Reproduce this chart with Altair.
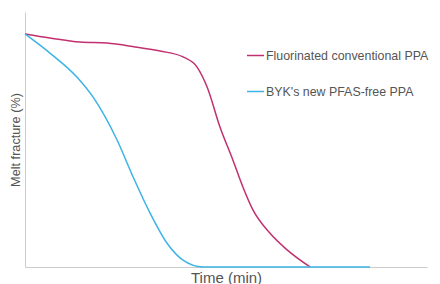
import altair as alt
import pandas as pd

series_names = ["Fluorinated conventional PPA", "BYK's new PFAS-free PPA"]
colors = ["#c2306f", "#3cb4e5"]

fluor_time = [0, 6.2, 13.7, 20.4, 27.4, 33.6, 39.3, 42.8, 45.3, 48.5, 51.7, 54.2, 56.7, 60.9, 65.2, 70.9]
fluor_melt = [91.4, 89.8, 88.2, 87.8, 86.3, 84.7, 82.4, 78.4, 70.6, 54.9, 42.0, 31.4, 22.4, 13.3, 6.7, 0]

byk_time = [0, 6.2, 12.9, 16.9, 22.9, 26.9, 31.1, 35.3, 39.3, 44.3, 85.8]
byk_melt = [91.4, 83.9, 74.5, 66.7, 49.8, 35.3, 21.2, 9.4, 2.7, 0, 0]

rows = []
for t, m in zip(fluor_time, fluor_melt):
    rows.append({"time": t, "melt": m, "series": series_names[0]})
for t, m in zip(byk_time, byk_melt):
    rows.append({"time": t, "melt": m, "series": series_names[1]})
df = pd.DataFrame(rows)

chart = alt.Chart(df).mark_line(interpolate="monotone", strokeWidth=1.5).encode(
    x=alt.X("time:Q", title="Time (min)", scale=alt.Scale(domain=[0, 100], nice=False),
            axis=alt.Axis(labels=False, ticks=False, grid=False, domainColor="#cccccc",
                          titleFontSize=15, titleFontWeight="normal", titleColor="#555555",
                          titlePadding=3)),
    y=alt.Y("melt:Q", title="Melt fracture (%)", scale=alt.Scale(domain=[0, 100], nice=False),
            axis=alt.Axis(labels=False, ticks=False, grid=False, domainColor="#cccccc",
                          titleFontSize=12.7, titleFontWeight="normal", titleColor="#555555",
                          titlePadding=3)),
    color=alt.Color("series:N", sort=series_names,
                    scale=alt.Scale(domain=series_names, range=colors),
                    legend=alt.Legend(title=None, orient="none", legendX=221, legendY=34,
                                      symbolType="stroke", symbolSize=289, symbolStrokeWidth=1.5,
                                      labelFontSize=12.4, labelColor="#555555", rowPadding=20,
                                      labelOffset=1, labelLimit=400)),
    order=alt.Order("time:Q"),
).properties(
    width=402, height=255,
    autosize=alt.AutoSizeParams(type="none"),
    padding={"left": 17, "top": 4, "right": 5, "bottom": 17}
).configure(font="Liberation Sans", view=alt.ViewConfig(stroke=None))

chart.save("out.html", embed_options={"renderer": "svg", "actions": False})
